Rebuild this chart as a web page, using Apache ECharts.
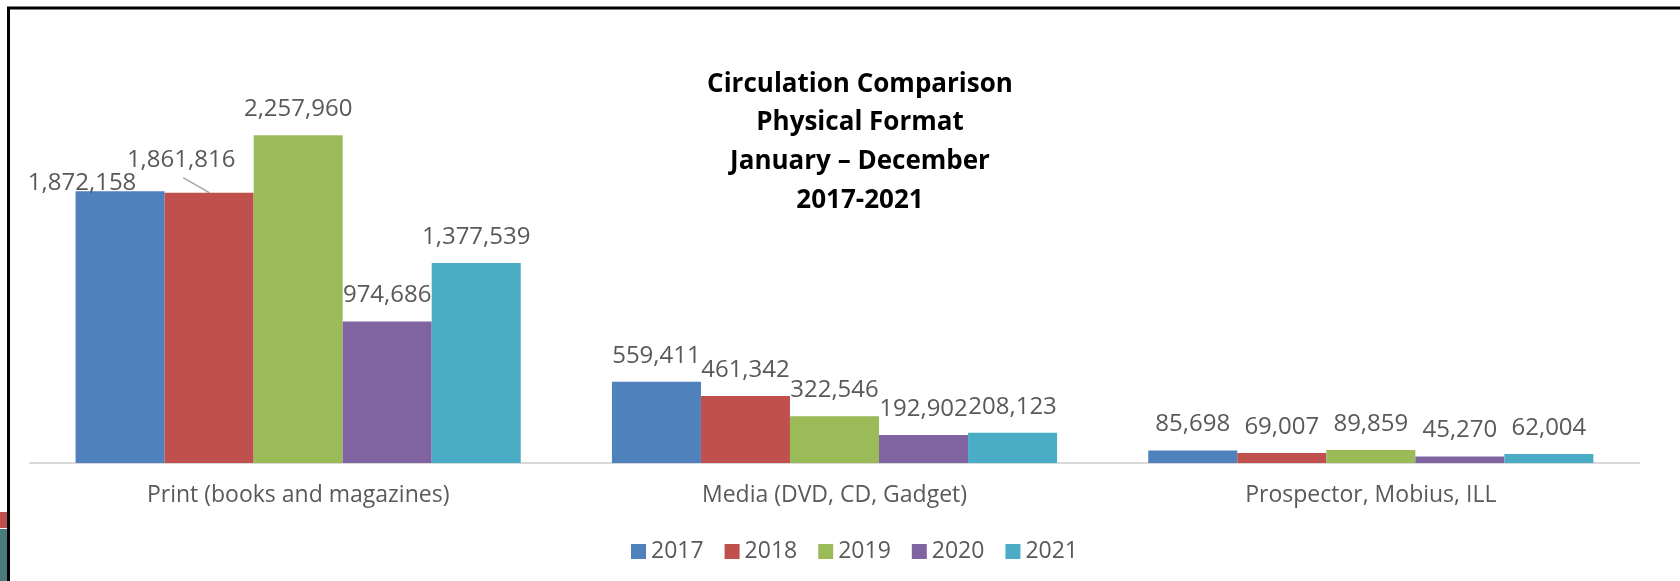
<!DOCTYPE html>
<html>
<head>
<meta charset="utf-8">
<title>Circulation Comparison</title>
<script src="https://cdn.jsdelivr.net/npm/echarts@6/dist/echarts.min.js"></script>
<style>
  html, body { margin: 0; padding: 0; background: #fff; }
  #chart { width: 1680px; height: 581px; }
</style>
</head>
<body>
<div id="chart"></div>
<script>
// categories and yearly values
var categories = ['Print (books and magazines)', 'Media (DVD, CD, Gadget)', 'Prospector, Mobius, ILL'];
var years = ['2017', '2018', '2019', '2020', '2021'];
var v2017 = [1872158, 559411, 85698];
var v2018 = [1861816, 461342, 69007];
var v2019 = [2257960, 322546, 89859];
var v2020 = [974686, 192902, 45270];
var v2021 = [1377539, 208123, 62004];
var colors = ['#4F81BD', '#C0504D', '#9BBB59', '#8064A2', '#4BACC6'];

var allValues = [v2017, v2018, v2019, v2020, v2021];
var font = '"Open Sans", "Liberation Sans", sans-serif';
var catGap = 0.17;

// labels in the first group were nudged by hand in the original
var moved = {
    0: { dx: -38, dy: 18 },
    1: { dx: -28, dy: -7 }
};

var series = allValues.map(function (vals, s) {
    return {
        name: years[s],
        type: 'bar',
        barGap: '0%',
        barCategoryGap: (catGap * 100) + '%',
        itemStyle: { color: colors[s] },
        data: vals,
        label: {
            show: true,
            position: 'top',
            distance: 14,
            color: '#595959',
            fontFamily: font,
            fontSize: 24,
            lineHeight: 24,
            formatter: function (p) { return p.value.toLocaleString('en-US'); }
        },
        labelLayout: function (p) {
            var m = moved[s];
            if (p.dataIndex !== 0 || !m) return {};
            return { dx: m.dx, dy: m.dy };
        }
    };
});

// leader line for the moved 2018 print label (goes to middle of the red bar top)
series.push({
    type: 'custom',
    name: 'leader',
    silent: true,
    data: [[0, v2018[0]]],
    renderItem: function (params, api) {
        var pt = api.coord([api.value(0), api.value(1)]);
        var bw = api.size([1, 0])[0] * (1 - catGap) / years.length;
        var bx = pt[0] - bw;   // 2018 is second of five bars
        return {
            type: 'line',
            shape: { x1: bx - 26, y1: pt[1] - 15, x2: bx, y2: pt[1] },
            style: { stroke: '#A6A6A6', lineWidth: 1.5 }
        };
    }
});

var chart = echarts.init(document.getElementById('chart'));
var option = {
    backgroundColor: '#fff',
    animation: false,
    title: {
        text: 'Circulation Comparison\nPhysical Format\nJanuary \u2013 December\n2017-2021',
        left: 855,
        top: 60,
        textAlign: 'center',
        textStyle: {
            fontFamily: font,
            fontWeight: 'bold',
            fontSize: 26,
            lineHeight: 38.7,
            color: '#000'
        }
    },
    legend: {
        data: years,
        left: 626,
        top: 535,
        icon: 'rect',
        itemWidth: 15,
        itemHeight: 15,
        itemGap: 21,
        textStyle: { fontFamily: font, fontSize: 23, color: '#595959' }
    },
    grid: { left: 30, right: 41, top: 100, bottom: 118, containLabel: false },
    xAxis: {
        type: 'category',
        data: categories,
        axisTick: { show: false },
        axisLine: { lineStyle: { color: '#D9D9D9', width: 2 } },
        axisLabel: { margin: 21, color: '#595959', fontFamily: font, fontSize: 23 }
    },
    yAxis: {
        type: 'value',
        min: 0,
        max: 2500000,
        show: false,
        splitLine: { show: false }
    },
    graphic: [
        { type: 'rect', shape: { x: 0, y: 512, width: 7, height: 16 }, style: { fill: '#C0504D' } },
        { type: 'rect', shape: { x: 0, y: 529, width: 7, height: 52 }, style: { fill: '#4A7A7D' } },
        { type: 'polyline', shape: { points: [[8.5, 581], [8.5, 8], [1680, 8]] },
          style: { stroke: '#000', lineWidth: 3, fill: null } }
    ],
    series: series
};
chart.setOption(option);
</script>
</body>
</html>
